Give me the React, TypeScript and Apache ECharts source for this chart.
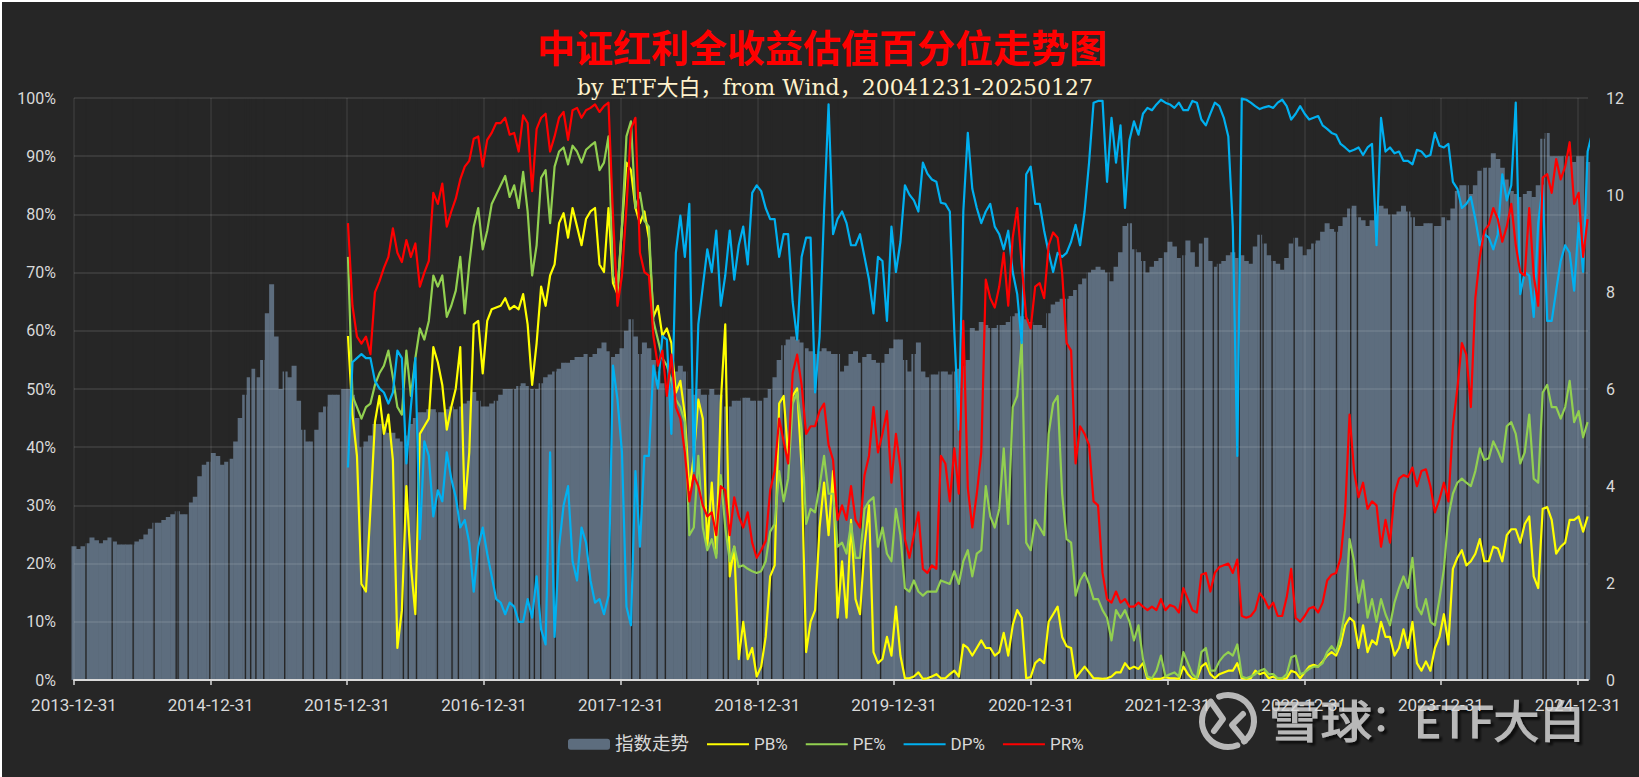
import React, { useEffect, useRef } from "react";
import * as echarts from "echarts";

const startDate = Date.UTC(2013, 11, 31);
const endDay = 4045;
const stepDays = 12;
const lineStartStep = 61;
const yearTickDays = [0, 365, 730, 1096, 1461, 1826, 2191, 2557, 2922, 3287, 3652, 4018];

// index level, read as share of the right-hand axis height (%)
const indexShare = [
  23,22.5,23,23.5,24.5,24,23.5,24,24.5,23.8,23.3,23.3,23.3,23.3,23.8,24.2,25,26,27,27,27.5,28,28.5,29,28.5,28.5,30.5,31.5,35,37,37.5,39,38.5,37,37.5,38,41,45,49,52,53.5,52,55,63,68,59,50,53,52,54,48,43,41,41,43,46,47,49,49,49,50,
  50,49,45,40,41,42,44,44,44,42.5,42.5,41.5,41,42,44,45,46,46,46.5,46.5,46,46,46.5,47,46.5,47,47.5,48,49.5,48,47,47,47.5,48,49,50,50,50,50.5,51,50.5,50,50,51,52,52.5,
  53,53.5,54.5,54.5,55,55.5,55.5,56,55.5,56,57,58,56.5,55.5,56,57,60,62,59,56,58,57,55,53,51,50,52,53,54,53,50,49,50,49,49,50,49,49,47,47,48,48,48.5,48.5,48,48,
  48,48.5,50,52,55,57.5,58.5,59,58.5,58,57,56.5,56,56.5,57,56.5,56,56,53,54,56,56.5,54.5,55.5,56,55,54.5,54.5,56,57,58.5,58.5,55,53,56,58,53,52,52.5,52.5,53,53,52.5,53,53.5,54,55,
  60.5,60,61.5,61,60.5,60.5,61,61,61.5,62.5,63,62.5,62,61.5,61,61,60.5,63,64.5,65,65.5,65.5,66,67,68,69,70,70.5,71,70.5,70,68.5,71,73.5,78,78.5,74,73.5,72,70,71,72,72.5,73.5,75.3,74.5,72.5,
  73,75.5,73.5,71,75,76,72,71,71.5,72,73,73.5,72.5,73,72,71.5,74.5,76.5,75,73,72,71.5,70.5,72.5,75,76,74.5,73,74,75,75.5,77,78.5,77.5,77,78,79.5,81,81.5,79.5,79,78,79,80,81.5,81,
  80,80,80.5,81.5,80.5,79.5,78,78,78.5,78.5,78,78,79.5,79,81,84,85,85,83.5,85,87.5,88,88,90.5,89.5,88,86,84,83.5,83,83.5,84,83,85,93,94,90,90,90,90,90,89,90,90,89,
];

const pbValues = [
  59.1,45.6,38.5,16.5,15.2,29.4,44.3,48.8,42.3,45.6,37.8,5.5,12,33.3,19.7,11.3,42.3,43.6,44.9,57.2,54.6,50.7,43,46.9,50.1,57.2,29.4,39.1,61.1,61.7,52.7,61.7,63.7,64,64.3,65.6,63.7,64.3,63.7,66.3,61.1,50.7,57.9,67.6,64.3,69.5,
  71.4,78.5,80.2,76,81.1,77.9,74.7,79.2,80.5,81.1,71.4,70.1,81.1,68.2,66.3,77.9,88.9,87.6,81.1,78.5,80.5,75.9,62.4,64.3,59.1,60.4,57.9,49.4,51.4,45.6,32.6,38.5,48.2,44.9,22.9,33.9,21.7,47.5,61.1,17.8,22.9,3.6,10,3.6,5.5,0.6,
  2.3,7.4,17.8,19.7,47.5,48.8,38.5,48.8,50.1,36.5,4.8,10,12,26.2,33.9,24.9,35.9,10.7,20.4,10.7,27.5,13.9,11.3,22.9,30,4.8,2.9,3.6,7.4,4.2,12.6,4.2,0.3,0.3,0.6,1.3,0.2,0.3,0.6,1,0.3,0.3,1,1.6,0.6,6.1,5.5,
  4.2,5.5,6.8,5.5,5.5,4.2,4.8,8.1,4.2,9.4,12,10.7,0.3,0.5,2.9,3.6,2.9,10,11.3,12.6,7.4,5.8,5.5,0.3,1.3,2.3,1.3,0.3,0.3,0.2,0.3,0.6,1.3,1.3,2.9,1.9,2.3,1.9,2.9,0.2,0.2,0.2,0.2,0.5,0.3,0.3,0.2,
  2.3,1,0.2,0.2,2.3,2.9,1,0.3,1,1.3,1.6,1.6,2.9,0.3,0.2,0.3,1.6,1,1.3,0.3,0.6,0.2,0.2,0.3,1.6,1.3,0.3,1.3,2.3,2.6,2.3,3.2,4.2,4.8,4.2,6.1,9.4,10.7,10,5.5,9.4,4.8,6.8,6.1,10,7.4,
  7.4,4.2,5.5,8.7,5.5,10,2.9,1.6,3.2,1.6,5.5,7.4,11.3,6.1,19.1,21,22.3,19.7,20.4,21.7,24.2,20.4,20.4,22.9,22.6,20.4,24.9,25.9,25.9,23.6,26.8,28.1,17.8,15.8,29.4,29.7,27.5,21.7,22.9,23.6,27.5,27.5,28.1,25.5,28.1,
];

const peValues = [
  72.7,48.8,46.9,44.9,46.9,47.5,50.7,52.7,54,56.6,52,46.9,45.6,56.6,48.8,55.3,60.4,58.5,61.7,69.5,67.6,69.5,62.4,64.3,66.9,72.7,63,71.4,77.9,81.1,74,77.2,81.8,83.4,85,86.6,83,85,81.1,87.3,80.5,69.5,74.7,86.3,87.6,78.5,
  88.2,90.8,91.5,88.6,91.8,90.8,88.9,91.1,91.8,92.4,87.6,88.9,93.4,69.5,66.9,77.9,93.4,96,81.1,83.7,78.9,77.9,61.7,58.5,55.3,54,51.4,48.2,46.9,44.3,24.9,26.2,38.5,26.2,22.3,24.2,21,35.2,26.2,20.4,22.9,19.4,19.7,19.1,18.7,18.4,
  18.7,20.4,25.5,26.8,35.9,30.7,34.6,47.5,49.4,43,26.8,29.4,28.8,33.3,38.5,32,32,22.9,23.6,21.7,26.8,21,21,29.4,30.7,31.4,22.9,26.2,21.7,20.4,29.4,24.9,15.8,15.2,17.1,15.2,14.5,15.2,15.2,15.2,17.1,16.8,16.5,18.7,16.5,20.4,22.3,
  17.8,21.7,22.3,33.3,28.1,26.2,29.4,39.8,26.8,46.9,48.8,58.2,23.6,22.3,27.5,26.2,24.9,42.3,47.5,48.8,32,24.2,23.6,14.5,17.1,18.4,16.5,13.9,13.9,12,10.7,6.8,12,10.7,12,10,6.8,9.4,3.6,0.6,0.3,1.6,4.2,0.6,1,1.3,0.6,
  4.8,2.9,1,0.3,4.8,5.5,1.6,1.6,3.2,4.2,4.8,4.2,6.1,0.6,0.3,0.6,1,1.6,1.9,1,1,0.3,0.3,1,3.9,4.2,1,1.3,1.9,2.3,2.3,2.9,4.8,5.8,4.8,7.4,12,24.2,20.4,13.3,17.1,10.7,13.9,10,13.9,11.3,
  9.4,13.3,15.8,17.8,15.8,21,12.6,11.3,13.9,10,9.4,13.9,19.1,28.1,32,33.9,34.6,33.9,33.3,35.9,39.8,37.8,38.1,41,39.4,37.5,43.6,44.3,42.3,37.2,39.1,45.6,34.6,33.9,49.4,50.7,46.9,46.9,44.9,46.9,51.4,44.3,46.2,41.7,44.3,
];

const dpValues = [
  36.5,54.6,55.3,56,55.3,55.3,51.4,50.1,49.4,47.5,49.4,56.6,55.3,37.2,46.9,55.3,24.2,41,38.5,28.1,32.6,30.7,39.1,34.6,31.4,26.2,27.5,23.6,15.2,22.9,26.2,21.7,17.8,13.9,13.3,11.3,13.3,12.6,10,10,13.9,10.7,17.8,8.7,6.1,39.1,
  7.4,22.9,30,33.3,20.4,17.1,26.2,23.6,17.1,13.3,13.9,11.3,14.5,54,48.2,39.1,12.6,9.4,35.9,22.9,38.5,38.5,54,50.1,59.1,58.5,42.3,73.4,79.8,72.7,81.8,35.9,61.1,67.6,74,70.1,77.2,64.3,69.5,77.2,68.8,74.7,77.9,71.4,83.7,85,
  84,81.1,79.2,79.2,72.7,76.6,76.6,65,58.5,72.7,76,76,49.4,59.1,80.5,98.9,76.6,79.2,80.5,78.5,74.7,74.7,76.6,72.7,68.8,63,72.7,72,61.7,77.9,70.1,75.3,85,83.4,82.4,80.5,88.9,87,86,85.6,82,81.8,80.5,59.8,43,80.5,94,
  84.4,81.1,78.5,80.5,81.8,77.9,76.6,74,77.2,70.1,66.3,57.9,86.9,88.2,81.8,81.8,77.2,73.4,70.1,73.4,72.7,73.4,75.3,78.2,74.7,80.5,88.9,99.2,99.5,99.5,85.6,96.6,88.9,95.3,81.1,92.8,96,93.7,97.3,98.3,97.9,98.9,99.7,99.2,98.9,98.3,99.2,
  97.9,97.9,99.5,99.2,96.3,95.3,97.3,99.2,98.6,96.6,93.4,77.9,38.5,99.9,99.7,99.2,98.6,98.1,98.4,98.6,98.3,99.2,99.7,98.6,96.3,97.3,98.6,97.3,96.3,96.6,96.9,95.3,94.7,94,93.7,92.1,91.5,90.8,91.1,91.5,90.2,91.5,92.1,74.7,96.6,90.8,
  91.5,90.5,90.8,89.2,89.2,88.6,91.1,90.8,89.9,90.2,94,91.8,91.5,92.1,85.6,84.4,81.1,81.8,83,79.2,74.7,76.6,76,74,76.6,86.9,82.4,85,99.2,66.3,70.1,69.5,62.4,78.5,85,61.7,61.7,66.9,72,74.7,73.4,66.9,78.5,70.1,90.8,94,
];

const prValues = [
  78.5,64.3,59,57.8,59,56,66.6,68.5,70.8,72.7,77.6,73.4,71.8,75.6,72.7,75,67.6,70,72,83.7,81.8,85.3,77.9,80.5,82.7,86,88.2,89.2,93,93.4,88.2,92.8,94,95.7,95.7,96.6,93.7,94,90.8,97,95.7,84,94.7,96.6,97.3,90.8,
  93.4,96.6,97.6,92.8,97.9,98.3,96.6,97.9,98.3,98.9,97.6,98.6,99.2,79.8,64.3,69.5,81.1,94.7,96.6,73.4,70.1,69.5,59.1,54,56.6,48.8,55.9,46.9,44.9,39.1,30.7,35.2,33.3,30,28.1,28.8,24.9,33.3,32.6,24.9,31.4,28.1,26.2,28.8,23.6,21,
  22.3,23.9,32.6,35.9,44.9,41,37.2,52.7,55.9,50.7,42.3,43.6,43.6,46.2,47.5,40.4,37.8,27.5,30,27.5,33.3,27.5,26.2,35.2,38.5,46.9,39.1,42.3,46.2,33.9,42.3,36.5,24.2,21,24.9,28.8,19.1,18.4,19.7,19.1,38.5,37.2,30.7,39.8,32,61.7,33,
  26.2,32,39.1,68.8,65.6,64,67.6,73.4,64.3,76,81.1,71.4,62.4,60.4,67.6,68.2,65.6,74.7,76.9,76,70,57.9,56.6,37.2,43.6,42.3,40.4,30.7,30,18.4,13.9,13.3,15.2,13.3,13.9,12.6,12.6,13.3,12.6,12,12.6,12,13.9,12,12.9,12.6,11.6,
  15.8,13.9,12,11.6,18.1,18.4,15.2,18.4,19.4,19.7,20,18.4,20.7,11,10.7,11,12,14.9,13.9,12.3,13.3,11,11,14.2,19.1,10.7,10,11,12.3,12.6,11.6,13.3,17.1,18.1,18.4,21,28.8,45.6,35.9,31.4,33.9,29.4,30.7,30,22.9,27.5,
  23.6,32,34.6,35.2,34.9,36.5,33.3,35.9,36.2,33.3,28.8,31,33.9,30.7,43.6,50.1,57.9,55.9,46.9,65.6,72.7,77.2,78.2,81.1,79.2,75.3,77.9,81.8,74.7,70.1,69.5,81.1,69.5,64.3,86.3,86.9,83.7,89.5,86,88.2,92.4,81.8,83.7,72.7,79.2,
];

// days on which the index bars are missing (dark vertical stripes)
const missingDays = [
  32,102,158,214,273,278,305,363,414,458,472,486,507,563,612,640,675,712,770,824,880,893,915,971,1010,1027,1083,1127,1174,1189,1217,1230,1247,
  1286,1374,1433,1490,1512,1558,1580,1637,1693,1735,1748,1784,1824,1840,1864,1895,1951,1986,2042,2104,2155,2220,2244,2287,2314,2349,2367,
  2449,2471,2505,2560,2601,2652,2681,2707,2763,2819,2835,2855,2910,2959,2966,3017,3044,3057,3113,3170,3177,3201,3260,3314,3373,3411,3429,
  3519,3565,3576,3632,3665,3698,3722,3763,3777,3835,3869,3925,3933,3982,4037,
];

const titleText = "中证红利全收益估值百分位走势图";
const subtitleText = "by ETF大白，from Wind，20041231-20250127";
const legendNames = ["指数走势", "PB%", "PE%", "DP%", "PR%"];

const OFFSET = 2;
const BG = "#262626";
const BAR = "#5D6D7E";
const GRID = "rgba(255,255,255,0.09)";
const LABEL = "#D9D9D9";
const MARK = "#B8B8B8";
const SANS = 'Roboto, "Noto Sans CJK SC", sans-serif';
const CJK = '"Noto Sans CJK SC", sans-serif';
const MARK_TEXT = {
  fontSize: 44,
  fontWeight: "normal",
  fontFamily: CJK,
  fill: MARK,
  stroke: MARK,
  lineWidth: 1.2,
  textShadowColor: "rgba(0,0,0,0.65)",
  textShadowOffsetX: 3,
  textShadowOffsetY: 3,
  textShadowBlur: 2,
};
const DEG = Math.PI / 180;

const toDateLabel = (day: number) => new Date(startDate + day * 864e5).toISOString().slice(0, 10);
const indexData = indexShare.map((v, k) => [k * stepDays, +((v * 12) / 100).toFixed(3)]);
const linePoints = (vals: number[]) => vals.map((v, i) => [(lineStartStep + i) * stepDays, v]);

const lineSeries = (name: string, data: number[], color: string) => ({
  name,
  type: "line",
  data: linePoints(data),
  yAxisIndex: 0,
  xAxisIndex: 0,
  showSymbol: false,
  symbol: "none",
  z: 5,
  lineStyle: { color, width: 2.2, join: "round" },
  itemStyle: { color },
});

const ox = (x: number) => x - OFFSET;
const oy = (y: number) => y - OFFSET;
const logoStroke = { fill: "none", stroke: MARK, lineWidth: 6, lineCap: "round", lineJoin: "round" };

export default function App() {
  const ref = useRef<HTMLDivElement>(null);
  useEffect(() => {
    const chart = echarts.init(ref.current!, undefined, { renderer: "svg" });
    const xBase = { type: "value", min: 0, max: endDay, z: 3 };
    chart.setOption({
      animation: false,
      backgroundColor: BG,
      textStyle: { fontFamily: SANS },
      title: [
        {
          text: titleText,
          left: ox(817),
          textAlign: "center",
          top: oy(25),
          textStyle: {
            color: "#FF0000",
            fontSize: 38,
            fontWeight: "bold",
            fontFamily: '"Liberation Serif", "Noto Sans CJK SC", serif',
          },
        },
        {
          text: subtitleText,
          left: ox(830),
          textAlign: "center",
          top: oy(71),
          textStyle: {
            color: "#FFF2CC",
            fontSize: 22,
            fontWeight: "normal",
            fontFamily: '"DejaVu Serif", "Noto Sans CJK SC", serif',
          },
        },
      ],
      legend: {
        data: legendNames.map((name, i) =>
          i === 0
            ? { name, textStyle: { color: LABEL, fontSize: 18.5, fontFamily: SANS } }
            : { name, itemStyle: { opacity: 0 }, textStyle: { color: LABEL, fontSize: 17, fontFamily: SANS } },
        ),
        left: ox(563),
        top: oy(730),
        itemWidth: 42,
        itemHeight: 11,
        itemGap: 17,
      },
      grid: { left: ox(74), right: 51, top: oy(98), bottom: 97 },
      xAxis: [
        {
          ...xBase,
          axisLine: { show: true, lineStyle: { color: LABEL, width: 2 } },
          axisTick: { show: true, length: 5, customValues: yearTickDays, lineStyle: { color: LABEL, width: 1.5 } },
          axisLabel: {
            customValues: yearTickDays,
            color: LABEL,
            fontSize: 17,
            margin: 16,
            fontFamily: SANS,
            hideOverlap: false,
            showMinLabel: true,
            showMaxLabel: true,
            formatter: (v: number) => toDateLabel(v),
          },
          splitLine: { show: true, lineStyle: { color: GRID, width: 1.5 } },
        },
        { ...xBase, show: false, splitLine: { show: false } },
      ],
      yAxis: [
        {
          type: "value",
          min: 0,
          max: 100,
          interval: 10,
          z: 3,
          axisLine: { show: false },
          axisTick: { show: false },
          axisLabel: { color: LABEL, fontSize: 16, margin: 18, formatter: "{value}%", fontFamily: SANS },
          splitLine: { show: true, lineStyle: { color: GRID, width: 2 } },
        },
        {
          type: "value",
          min: 0,
          max: 12,
          interval: 2,
          z: 3,
          axisLine: { show: false },
          axisTick: { show: false },
          axisLabel: { color: LABEL, fontSize: 16, margin: 18, fontFamily: SANS },
          splitLine: { show: false },
        },
      ],
      series: [
        {
          name: legendNames[0],
          type: "bar",
          xAxisIndex: 0,
          yAxisIndex: 1,
          data: indexData,
          barWidth: 5,
          clip: true,
          z: 1,
          itemStyle: { color: BAR },
        },
        {
          name: "缺口",
          type: "bar",
          xAxisIndex: 1,
          yAxisIndex: 1,
          data: missingDays.map((d) => [d, 12]),
          barWidth: 1.4,
          z: 2,
          itemStyle: { color: BG },
        },
        lineSeries(legendNames[1], pbValues, "#FFFF00"),
        lineSeries(legendNames[2], peValues, "#92D050"),
        lineSeries(legendNames[3], dpValues, "#00B0F0"),
        lineSeries(legendNames[4], prValues, "#FF0000"),
      ],
      graphic: {
        elements: [
          {
            type: "arc",
            z: 1,
            silent: true,
            shape: { cx: ox(1228), cy: oy(721), r: 26, startAngle: -110 * DEG, endAngle: 52 * DEG, clockwise: true },
            style: logoStroke,
          },
          {
            type: "arc",
            z: 1,
            silent: true,
            shape: { cx: ox(1228), cy: oy(721), r: 26, startAngle: 69 * DEG, endAngle: 228 * DEG, clockwise: true },
            style: logoStroke,
          },
          {
            type: "polyline",
            z: 1,
            silent: true,
            shape: { points: [[ox(1211), oy(702)], [ox(1223), oy(719)], [ox(1214), oy(731)]] },
            style: logoStroke,
          },
          {
            type: "polyline",
            z: 1,
            silent: true,
            shape: { points: [[ox(1243), oy(714)], [ox(1232), oy(725)], [ox(1245), oy(741)]] },
            style: logoStroke,
          },
          {
            type: "text",
            z: 1,
            silent: true,
            x: ox(1269),
            y: oy(697),
            scaleX: 1.17,
            style: { text: "雪球", ...MARK_TEXT },
          },
          {
            type: "text",
            z: 1,
            silent: true,
            x: ox(1372),
            y: oy(697),
            style: { text: "：", ...MARK_TEXT, fontSize: 36 },
          },
          {
            type: "text",
            z: 1,
            silent: true,
            x: ox(1414),
            y: oy(697),
            scaleX: 1.04,
            style: { text: "ETF大白", ...MARK_TEXT },
          },
        ],
      },
    });
    return () => chart.dispose();
  }, []);
  return (
    <div
      ref={ref}
      style={{ position: "absolute", left: OFFSET, top: OFFSET, width: 1639 - OFFSET, height: 777 - OFFSET }}
    />
  );
}
